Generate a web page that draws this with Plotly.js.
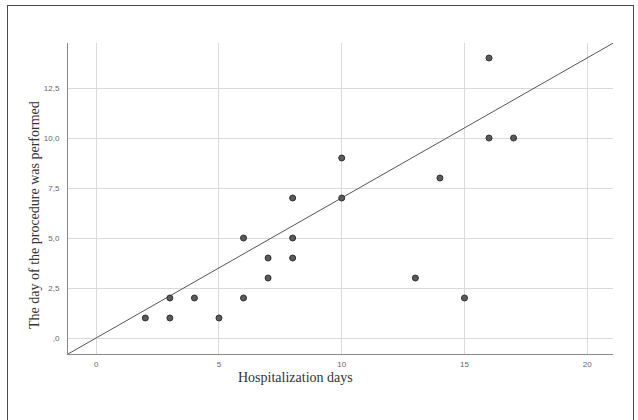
<!DOCTYPE html>
<html>
<head>
<meta charset="utf-8">
<script src="https://cdn.plot.ly/plotly-3.0.1.min.js"></script>
<style>
  html, body { margin: 0; padding: 0; background: #fff; }
  #chart { width: 638px; height: 420px; position: relative; }
  #frame { position: absolute; left: 7px; top: 5px; width: 625px; height: 430px;
           border: 1.5px solid #4a4a4a; pointer-events: none; }
</style>
</head>
<body>
<div id="chart"></div>
<div id="frame"></div>
<script>
// Hospitalization days (x) vs day of procedure (y)
const hospDays = [2, 3, 3, 4, 5, 6, 6, 7, 7, 8, 8, 8, 10, 10, 13, 14, 15, 16, 16, 17];
const procDay  = [1, 1, 2, 2, 1, 2, 5, 3, 4, 4, 5, 7, 7, 9, 3, 8, 2, 10, 14, 10];
// Fit line endpoints
const fitX = [-1.15, 21.05];
const fitY = [-0.8, 14.74];
const xTicks = [0, 5, 10, 15, 20];
const xTickText = ['0', '5', '10', '15', '20'];
const yTicks = [0, 2.5, 5, 7.5, 10, 12.5];
const yTickText = [',0', '2,5', '5,0', '7,5', '10,0', '12,5'];

const traces = [
  { x: fitX, y: fitY, mode: 'lines', type: 'scatter',
    line: { color: '#555555', width: 1 }, hoverinfo: 'skip' },
  { x: hospDays, y: procDay, mode: 'markers', type: 'scatter',
    marker: { size: 6, color: '#5a5a5a', line: { color: '#333333', width: 1 } } }
];

const tickFont = { family: 'Liberation Sans, Arial, sans-serif', size: 8, color: '#666666' };
const layout = {
  width: 638, height: 420,
  margin: { l: 68, r: 25, t: 43, b: 66 },
  paper_bgcolor: '#ffffff', plot_bgcolor: '#ffffff',
  showlegend: false,
  xaxis: {
    range: [-1.15, 21.05], tickvals: xTicks, ticktext: xTickText,
    showgrid: true, gridcolor: '#dadada', gridwidth: 1,
    zeroline: false, showline: true, linecolor: '#8a8a8a', linewidth: 1,
    ticks: '', ticklabelstandoff: 2, tickfont: tickFont
  },
  yaxis: {
    range: [-0.8, 14.75], tickvals: yTicks, ticktext: yTickText,
    showgrid: true, gridcolor: '#dadada', gridwidth: 1,
    zeroline: false, showline: true, linecolor: '#8a8a8a', linewidth: 1,
    ticks: '', ticklabelstandoff: 6, tickfont: tickFont
  },
  annotations: [
    { text: 'Hospitalization days', xref: 'paper', yref: 'paper',
      x: (295 - 68) / 545, y: (354 - 377) / 311, xanchor: 'center', yanchor: 'middle',
      showarrow: false, font: { family: 'Liberation Serif, Times New Roman, serif', size: 14, color: '#333333' } },
    { text: 'The day of the procedure was performed', xref: 'paper', yref: 'paper',
      x: (34 - 68) / 545, y: (354 - 215) / 311, xanchor: 'center', yanchor: 'middle', textangle: -90,
      showarrow: false, font: { family: 'Liberation Serif, Times New Roman, serif', size: 14, color: '#333333' } }
  ]
};

Plotly.newPlot('chart', traces, layout, { displayModeBar: false, staticPlot: true });
</script>
</body>
</html>
